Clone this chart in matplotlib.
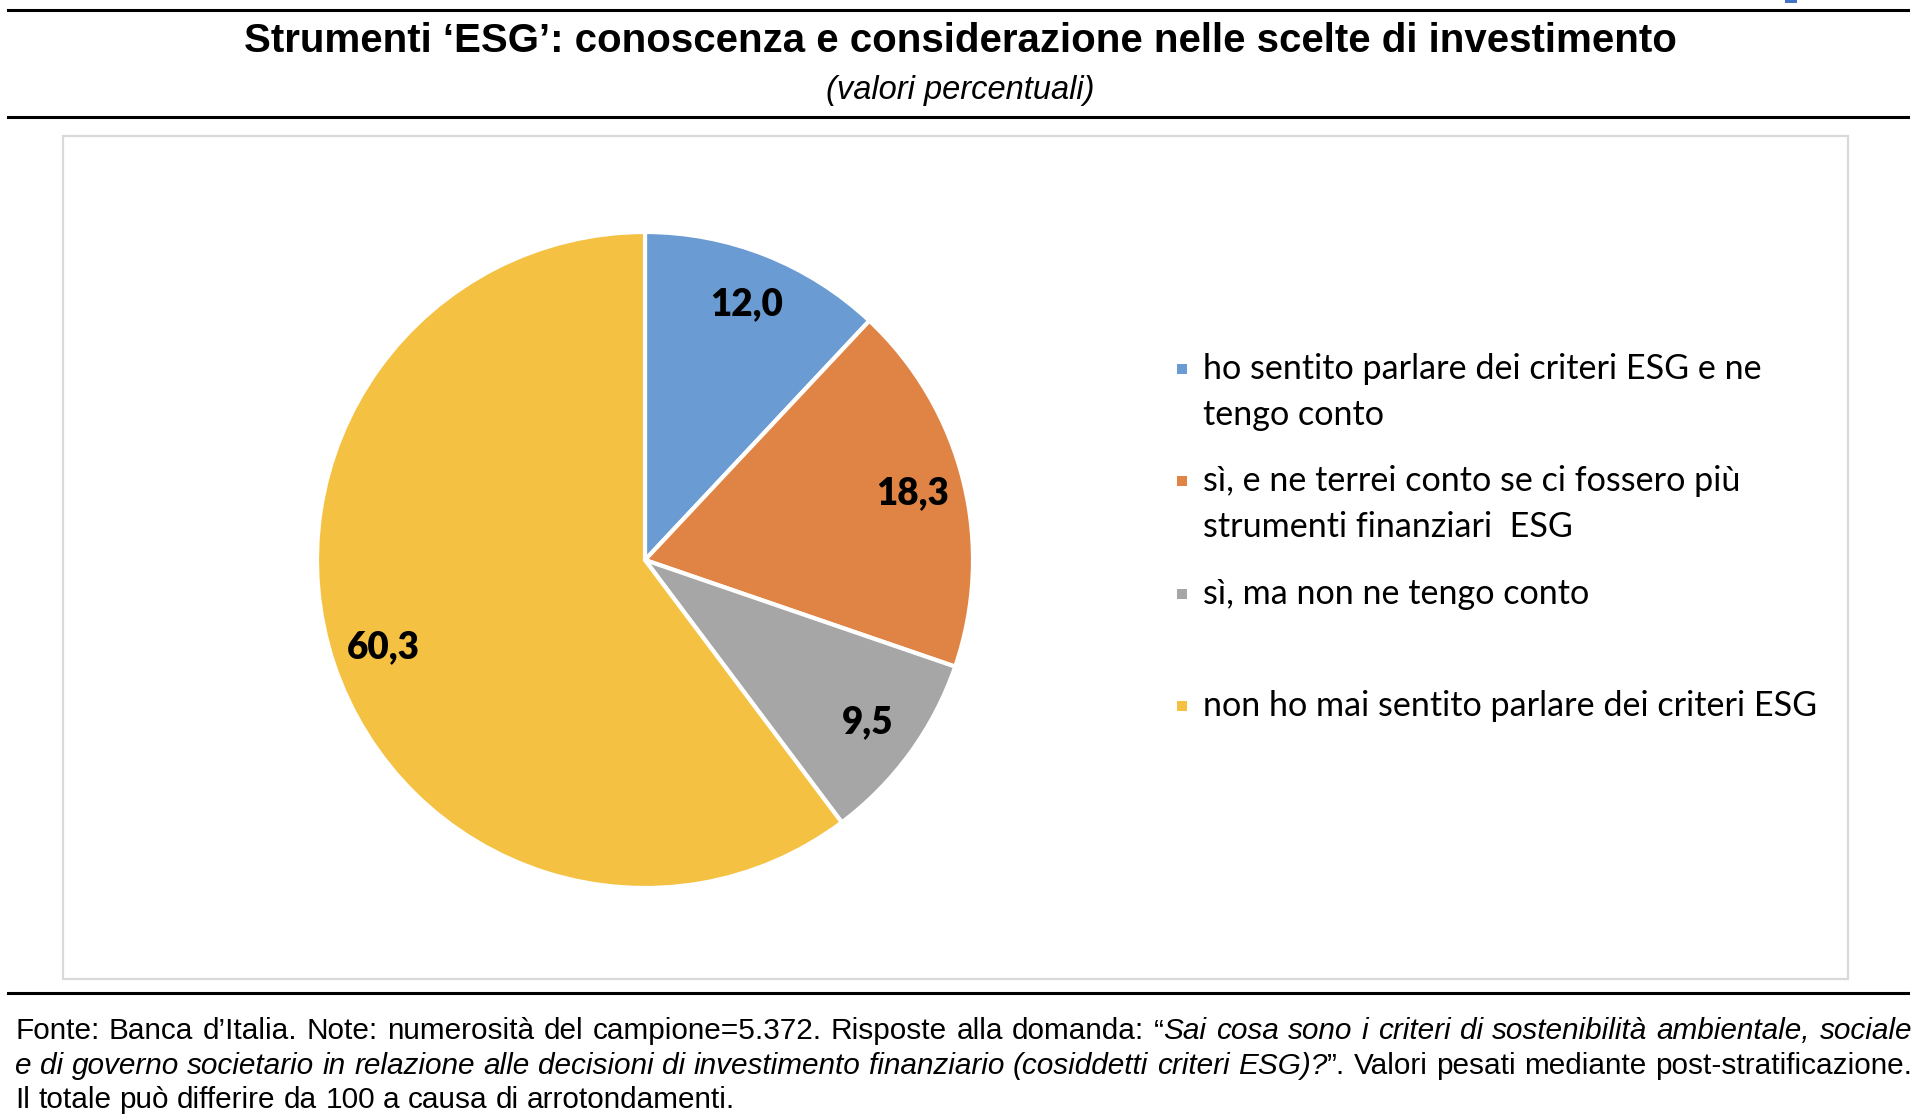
import matplotlib
matplotlib.use('Agg')
import matplotlib.pyplot as plt
from matplotlib.lines import Line2D
from matplotlib.patches import Rectangle

# dati
categorie = [
    'ho sentito parlare dei criteri ESG e ne\ntengo conto',
    'sì, e ne terrei conto se ci fossero più\nstrumenti finanziari  ESG',
    'sì, ma non ne tengo conto',
    'non ho mai sentito parlare dei criteri ESG',
]
valori = [12.0, 18.3, 9.5, 60.3]
colori = ['#6A9BD2', '#DF8444', '#A6A6A6', '#F4C142']

titolo = 'Strumenti ‘ESG’: conoscenza e considerazione nelle scelte di investimento'
sottotitolo = '(valori percentuali)'
nota = [
    [('Fonte: Banca d’Italia. Note: numerosità del campione=5.372.  Risposte alla domanda: “', False),
     ('Sai cosa sono i criteri di sostenibilità ambientale, sociale', True)],
    [('e di governo societario in relazione alle decisioni di investimento finanziario (cosiddetti criteri ESG)?', True),
     ('”. Valori pesati mediante post-stratificazione.', False)],
    [('Il totale può differire da 100 a causa di arrotondamenti.', False)],
]

W, H = 1920, 1118
fig = plt.figure(figsize=(W / 100, H / 100), dpi=100)
fig.patch.set_facecolor('white')


def fx(x):
    return x / W


def fy(y):
    return 1 - y / H


# linee orizzontali e cornice
for y in (10, 117, 993):
    fig.add_artist(Line2D([fx(8), fx(1908)], [fy(y), fy(y)], color='black', lw=2.2))
fig.add_artist(Rectangle((fx(63), fy(979)), fx(1848 - 63), (979 - 136) / H,
                         fill=False, edgecolor='#D9D9D9', lw=1.6))
fig.add_artist(Rectangle((fx(1785), fy(3)), fx(12), 3 / H, color='#4472C4', lw=0))

fig.text(fx(960), fy(41), titolo, ha='center', va='center', fontsize=29,
         fontweight='bold', family='Liberation Sans')
fig.text(fx(960), fy(90), sottotitolo, ha='center', va='center', fontsize=23.5,
         style='italic', family='Liberation Sans')

# torta
cx, cy, r = 645, 560, 328
S = 2.5 * r
ax = fig.add_axes([fx(cx - S / 2), fy(cy + S / 2), fx(S), S / H])
wedges, _, autotexts = ax.pie(valori, colors=colori, startangle=90, counterclock=False,
                              autopct='%1.1f', pctdistance=0.84,
                              wedgeprops=dict(edgecolor='white', linewidth=3))
for t, v in zip(autotexts, valori):
    t.set_text(f'{v:.1f}'.replace('.', ','))
    t.set_fontsize(26.5)
    t.set_fontweight('heavy')
    t.set_family('Lato')
ax.set_xlim(-1.25, 1.25)
ax.set_ylim(-1.25, 1.25)
ax.set_aspect('equal')
ax.axis('off')

# legenda
leg_y = [369, 481, 594, 706]
for w, lab, y in zip(wedges, categorie, leg_y):
    fig.add_artist(Rectangle((fx(1177), fy(y + 5)), fx(10), 10 / H,
                             color=w.get_facecolor(), lw=0))
    for i, riga in enumerate(lab.split('\n')):
        fig.text(fx(1203), fy(y + 46 * i), riga, ha='left', va='center',
                 fontsize=24.6, family='Lato')

# nota a piè di pagina, giustificata
renderer = fig.canvas.get_renderer()
fam = ['Liberation Sans Narrow', 'Liberation Sans']
prova = fig.text(0, 0, nota[2][0][0], fontsize=20, family=fam)
fs = 20 * 718 / prova.get_window_extent(renderer).width
prova.remove()


def parole(segs):
    out = [[]]
    for txt, it in segs:
        parts = txt.split(' ')
        for i, p in enumerate(parts):
            if i > 0:
                out.append([])
            if p:
                out[-1].append((p, it))
    return [w for w in out if w]


x0, x1 = 15, 1912
spazio = None
for n, (segs, y) in enumerate(zip(nota, [1031, 1066, 1100])):
    words = parole(segs)
    pezzi = []
    larg = []
    for w in words:
        ws = []
        tot = 0
        for p, it in w:
            t = fig.text(0, fy(y), p, ha='left', va='center', fontsize=fs, family=fam,
                         style='italic' if it else 'normal')
            wd = t.get_window_extent(renderer).width
            ws.append((t, wd))
            tot += wd
        pezzi.append(ws)
        larg.append(tot)
    if spazio is None:
        sp = fig.text(0, 0, 'a a', fontsize=fs, family=fam)
        sa = fig.text(0, 0, 'aa', fontsize=fs, family=fam)
        spazio = sp.get_window_extent(renderer).width - sa.get_window_extent(renderer).width
        sp.remove()
        sa.remove()
    if n < 2:
        gap = (x1 - x0 - sum(larg)) / (len(words) - 1)
    else:
        gap = spazio
    x = x0
    for ws, tot in zip(pezzi, larg):
        for t, wd in ws:
            t.set_x(fx(x))
            x += wd
        x += gap

fig.savefig('out.png', dpi=100, facecolor='white')
